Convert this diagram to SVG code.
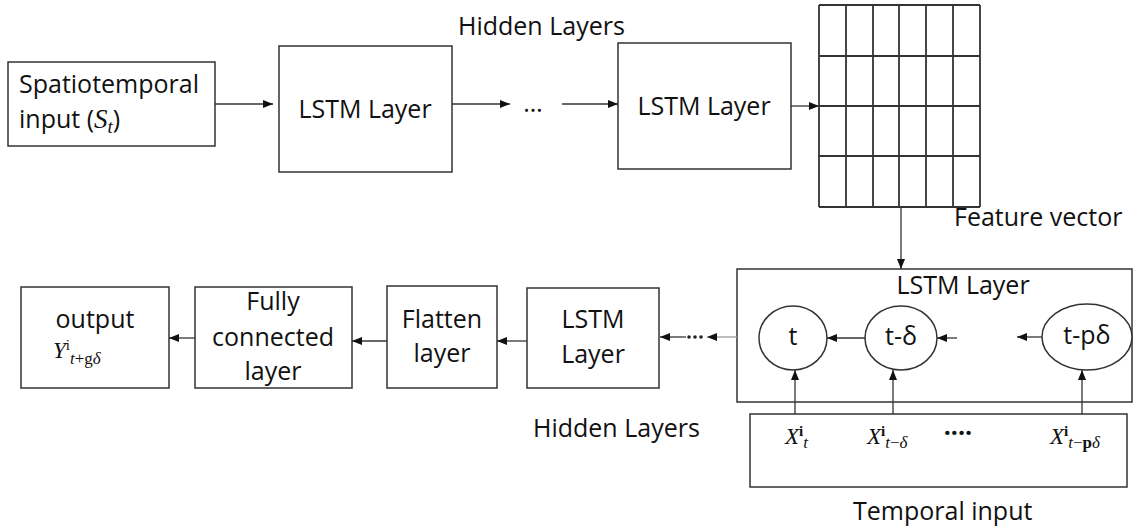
<svg xmlns="http://www.w3.org/2000/svg" width="1136" height="531" viewBox="0 0 1136 531">
  <style>
    .box { fill: #fff; stroke: #333; stroke-width: 1.5; }
    .frame { fill: none; stroke: #333; stroke-width: 1.5; }
    .grid { stroke: #333; stroke-width: 1.8; fill: none; }
    .edge { stroke: #333; stroke-width: 1.3; fill: none; }
    .faint { stroke: #999; }
    .lbl { font-family: "Open Sans", "Liberation Sans", Arial, sans-serif; font-size: 25px; fill: #111; }
    .math { font-family: "Liberation Serif", "Times New Roman", serif; fill: #111; }
    .it { font-style: italic; }
    .bd { font-weight: bold; }
  </style>
  <defs>
    <marker id="arr" markerWidth="10" markerHeight="8" refX="10" refY="4" orient="auto" markerUnits="userSpaceOnUse">
      <path d="M0,0 L10,4 L0,8 Z" fill="#111"/>
    </marker>
  </defs>

  <!-- section captions -->
  <text class="lbl" x="458" y="35">Hidden Layers</text>
  <text class="lbl" x="533" y="437">Hidden Layers</text>
  <text class="lbl" x="954" y="226">Feature vector</text>
  <text class="lbl" x="853" y="520">Temporal input</text>

  <g id="spatiotemporal-input">
    <rect class="box" x="8" y="62" width="207" height="84"/>
    <text class="lbl" x="19" y="93">Spatiotemporal</text>
    <text class="lbl" x="19" y="128">input (<tspan class="math it" font-size="27">S</tspan><tspan class="math it" font-size="19" dy="5">t</tspan><tspan dy="-5">)</tspan></text>
  </g>

  <g id="lstm-top-1">
    <rect class="box" x="279" y="46" width="173" height="126"/>
    <text class="lbl" x="365" y="118" text-anchor="middle">LSTM Layer</text>
  </g>

  <g id="lstm-top-2">
    <rect class="box" x="618" y="43" width="173" height="126"/>
    <text class="lbl" x="704" y="115" text-anchor="middle">LSTM Layer</text>
  </g>

  <g id="feature-vector">
    <rect x="819" y="5" width="161" height="202" fill="#fff"/>
    <path class="grid" d="M819,5 V207 M846,5 V207 M873,5 V207 M899,5 V207 M926,5 V207 M953,5 V207 M980,5 V207
                          M819,5 H980 M819,56 H980 M819,106 H980 M819,156 H980 M819,207 H980"/>
  </g>

  <g id="lstm-recurrent">
    <rect class="frame" x="737" y="269" width="395" height="133"/>
    <text class="lbl" x="963" y="294" text-anchor="middle">LSTM Layer</text>
    <g id="cell-t">
      <ellipse class="box" cx="793" cy="338" rx="34" ry="32"/>
      <text class="lbl" x="793" y="345" font-size="20" text-anchor="middle">t</text>
    </g>
    <g id="cell-t-delta">
      <ellipse class="box" cx="901" cy="338" rx="36" ry="32"/>
      <text class="lbl" x="901" y="345" font-size="20" text-anchor="middle">t-δ</text>
    </g>
    <g id="cell-t-pdelta">
      <ellipse class="box" cx="1087" cy="337" rx="45" ry="33"/>
      <text class="lbl" x="1087" y="344" font-size="20" text-anchor="middle">t-pδ</text>
    </g>
  </g>

  <g id="temporal-input">
    <rect class="box" x="750" y="414" width="377" height="73"/>
    <text class="math" x="785" y="444" font-size="23"><tspan class="it">X</tspan><tspan class="bd" font-size="15" dy="-8">i</tspan><tspan class="it" font-size="17" dy="12">t</tspan></text>
    <text class="math" x="867" y="444" font-size="23"><tspan class="it">X</tspan><tspan class="bd" font-size="15" dy="-8">i</tspan><tspan font-size="17" dy="12"><tspan class="it">t</tspan>−<tspan class="it">δ</tspan></tspan></text>
    <text class="lbl bd" x="958" y="442" font-size="20" text-anchor="middle">····</text>
    <text class="math" x="1050" y="444" font-size="23"><tspan class="it">X</tspan><tspan class="bd" font-size="15" dy="-8">i</tspan><tspan font-size="17" dy="12"><tspan class="it">t</tspan>−<tspan class="bd">p</tspan><tspan class="it">δ</tspan></tspan></text>
  </g>

  <g id="lstm-bottom">
    <rect class="box" x="527" y="288" width="132" height="100"/>
    <text class="lbl" x="593" y="328" text-anchor="middle">LSTM</text>
    <text class="lbl" x="593" y="363" text-anchor="middle">Layer</text>
  </g>

  <g id="flatten">
    <rect class="box" x="387" y="286" width="110" height="102"/>
    <text class="lbl" x="442" y="328" text-anchor="middle">Flatten</text>
    <text class="lbl" x="442" y="362" text-anchor="middle">layer</text>
  </g>

  <g id="fully-connected">
    <rect class="box" x="195" y="287" width="157" height="101"/>
    <text class="lbl" x="273" y="310" text-anchor="middle">Fully</text>
    <text class="lbl" x="273" y="346" text-anchor="middle">connected</text>
    <text class="lbl" x="273" y="380" text-anchor="middle">layer</text>
  </g>

  <g id="output">
    <rect class="box" x="21" y="287" width="148" height="101"/>
    <text class="lbl" x="95" y="328" text-anchor="middle">output</text>
    <text class="math" x="53" y="358" font-size="23"><tspan class="it">Y</tspan><tspan font-size="15" dy="-8">i</tspan><tspan font-size="17" dy="14"><tspan class="it">t</tspan>+g<tspan class="it">δ</tspan></tspan></text>
  </g>

  <!-- ellipsis marks between layers -->
  <text class="lbl" x="533" y="112" text-anchor="middle">…</text>
  <g fill="#222">
    <circle cx="689" cy="337" r="1.8"/>
    <circle cx="695" cy="337" r="1.8"/>
    <circle cx="701" cy="337" r="1.8"/>
  </g>

  <!-- connectors -->
  <g id="connectors">
    <line class="edge" x1="215" y1="104" x2="273" y2="104" marker-end="url(#arr)"/>
    <line class="edge" x1="452" y1="104" x2="510" y2="104" marker-end="url(#arr)"/>
    <line class="edge" x1="562" y1="104" x2="618" y2="104" marker-end="url(#arr)"/>
    <line class="edge" x1="791" y1="106" x2="819" y2="106" marker-end="url(#arr)"/>
    <line class="edge" x1="901" y1="207" x2="901" y2="269" marker-end="url(#arr)"/>
    <!-- lower chain, right to left -->
    <line class="edge faint" x1="737" y1="337" x2="707" y2="337" marker-end="url(#arr)"/>
    <line class="edge" x1="686" y1="337" x2="660" y2="337" marker-end="url(#arr)"/>
    <line class="edge" x1="527" y1="341" x2="497" y2="341" marker-end="url(#arr)"/>
    <line class="edge" x1="387" y1="341" x2="352" y2="341" marker-end="url(#arr)"/>
    <line class="edge" x1="195" y1="338" x2="169" y2="338" marker-end="url(#arr)"/>
    <!-- inside the recurrent layer -->
    <line class="edge" x1="865" y1="338" x2="827" y2="338" marker-end="url(#arr)"/>
    <line class="edge" x1="957" y1="338" x2="937" y2="338" marker-end="url(#arr)"/>
    <line class="edge" x1="1042" y1="337" x2="1017" y2="337" marker-end="url(#arr)"/>
    <!-- temporal inputs feeding the cells -->
    <line class="edge" x1="795" y1="414" x2="795" y2="370" marker-end="url(#arr)"/>
    <line class="edge" x1="893" y1="414" x2="893" y2="370" marker-end="url(#arr)"/>
    <line class="edge" x1="1082" y1="414" x2="1082" y2="370" marker-end="url(#arr)"/>
  </g>
</svg>
